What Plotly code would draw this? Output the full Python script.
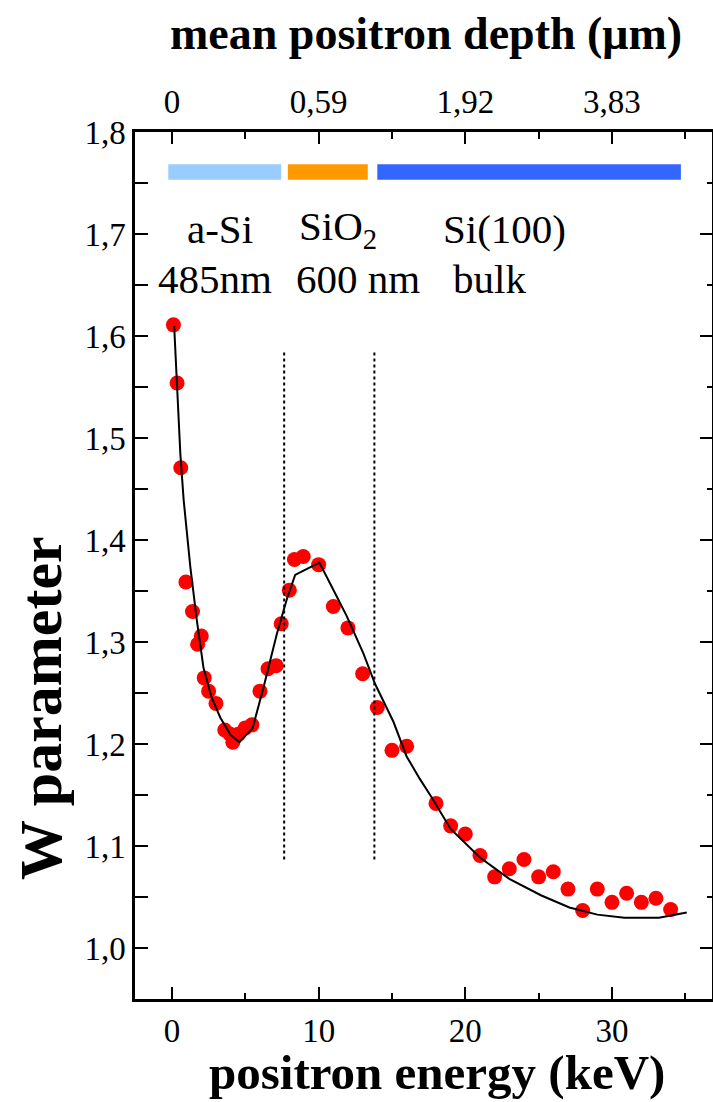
import plotly.graph_objects as go

# Measured W parameter vs. positron implantation energy
energy_kev = [0.1, 0.35, 0.6, 0.95, 1.4, 2.0, 1.75, 2.2, 2.5, 3.0, 3.6, 3.95, 4.15,
              4.55, 5.0, 5.45, 6.0, 6.55, 7.1, 7.45, 8.0, 8.35, 8.95, 10.0, 11.0,
              12.0, 13.0, 14.0, 15.0, 16.0, 18.0, 19.0, 20.0, 21.0, 22.0, 23.0,
              24.0, 25.0, 26.0, 27.0, 28.0, 29.0, 30.0, 31.0, 32.0, 33.0, 34.0]
w_param = [1.611, 1.554, 1.471, 1.359, 1.330, 1.306, 1.298, 1.265, 1.252, 1.240,
           1.214, 1.210, 1.202, 1.210, 1.216, 1.219, 1.252, 1.274, 1.277, 1.318,
           1.351, 1.381, 1.384, 1.376, 1.335, 1.314, 1.269, 1.236, 1.194, 1.198,
           1.142, 1.120, 1.112, 1.091, 1.070, 1.078, 1.087, 1.070, 1.075, 1.058,
           1.037, 1.058, 1.045, 1.054, 1.045, 1.049, 1.038]

# Layered-model fit curve
fit_energy = [0.15, 0.35, 0.57, 0.8, 1.25, 1.7, 2.15, 2.7, 3.3, 4.0, 4.6, 5.5, 6.25,
              7.15, 7.85, 8.4, 10.05, 10.8, 11.9, 13.05, 13.85, 15.1, 16.0, 16.9,
              17.7, 19.0, 21.0, 23.0, 25.15, 27.1, 29.0, 30.85, 33.2, 35.1]
fit_w = [1.610, 1.550, 1.485, 1.439, 1.374, 1.321, 1.275, 1.246, 1.226, 1.209,
         1.202, 1.216, 1.256, 1.308, 1.343, 1.366, 1.378, 1.357, 1.326, 1.289,
         1.259, 1.222, 1.188, 1.166, 1.148, 1.117, 1.089, 1.068, 1.052, 1.040,
         1.033, 1.030, 1.030, 1.035]

# Sample layers: energy extent on the bar, colour, two-line caption
layer_start = [-0.25, 7.9, 14.0]
layer_end = [7.45, 13.35, 34.7]
layer_colors = ["#99CCFF", "#FF9900", "#3366FF"]
layer_names = ["a-Si", "SiO<sub>2</sub>", "Si(100)"]
layer_sizes = ["485nm", "600 nm", "bulk"]
name_pos = [3.3, 11.3, 22.7]
size_pos = [2.9, 12.65, 21.65]

# Interface positions (keV) marked with dotted lines
interfaces = [7.65, 13.8]

# Mean positron depth (µm) shown on the top axis at 0, 10, 20, 30 keV
depth_tickvals = [0, 10, 20, 30]
depth_ticktext = ["0", "0,59", "1,92", "3,83"]

FONT = "Liberation Serif"
XR = [-2.52, 36.82]
YR = [0.9503, 1.8]

fig = go.Figure()

fig.add_trace(go.Scatter(
    x=energy_kev, y=w_param, mode="markers",
    marker=dict(color="#FF0000", size=15, line=dict(width=0)),
    showlegend=False, cliponaxis=False,
))
fig.add_trace(go.Scatter(
    x=fit_energy, y=fit_w, mode="lines",
    line=dict(color="black", width=2),
    showlegend=False,
))
# invisible traces so the top and right axes are drawn
fig.add_trace(go.Scatter(x=[None], y=[None], xaxis="x2", yaxis="y", showlegend=False))
fig.add_trace(go.Scatter(x=[None], y=[None], xaxis="x", yaxis="y2", showlegend=False))

shapes = []
for x0, x1, c in zip(layer_start, layer_end, layer_colors):
    shapes.append(dict(type="rect", xref="x", yref="y", x0=x0, x1=x1,
                       y0=1.7533, y1=1.7683, fillcolor=c, line=dict(width=0)))
for xi in interfaces:
    shapes.append(dict(type="line", xref="x", yref="y", x0=xi, x1=xi,
                       y0=1.087, y1=1.585,
                       line=dict(color="black", width=2, dash="dot")))

annotations = []
for name, sz, xn, xs in zip(layer_names, layer_sizes, name_pos, size_pos):
    annotations.append(dict(x=xn, y=1.705, xref="x", yref="y", text=name,
                            showarrow=False, font=dict(family=FONT, size=41, color="black")))
    annotations.append(dict(x=xs, y=1.656, xref="x", yref="y", text=sz,
                            showarrow=False, font=dict(family=FONT, size=41, color="black")))

annotations += [
    dict(x=0.523, y=-0.0851, xref="paper", yref="paper", showarrow=False,
         xanchor="center", yanchor="middle",
         text="<b>positron energy (keV)</b>",
         font=dict(family=FONT, size=49, color="black")),
    dict(x=0.505, y=1.1138, xref="paper", yref="paper", showarrow=False,
         xanchor="center", yanchor="middle",
         text="<b>mean positron depth (μm)</b>",
         font=dict(family=FONT, size=46, color="black")),
    dict(x=-0.164, y=0.336, xref="paper", yref="paper", showarrow=False,
         xanchor="center", yanchor="middle",
         text="<b>W parameter</b>", textangle=-90,
         font=dict(family=FONT, size=60, color="black")),
]

tickfont = dict(family=FONT, size=33, color="black")

fig.update_layout(
    width=713, height=1102,
    margin=dict(l=135, r=1, t=132, b=103),
    paper_bgcolor="white", plot_bgcolor="white",
    separators=", ",
    shapes=shapes, annotations=annotations,
    xaxis=dict(range=XR, showgrid=False, zeroline=False,
               showline=True, linecolor="black", linewidth=2.5,
               ticks="inside", ticklen=12, tickwidth=2, tickcolor="black",
               tick0=0, dtick=10, tickfont=tickfont, ticklabelstandoff=1,
               minor=dict(ticks="inside", ticklen=6, tickwidth=2, tickcolor="black",
                          dtick=5, tick0=0, showgrid=False)),
    xaxis2=dict(range=XR, overlaying="x", side="top", showgrid=False, zeroline=False,
                showline=True, linecolor="black", linewidth=2.5,
                ticks="inside", ticklen=12, tickwidth=2, tickcolor="black",
                tickmode="array", tickvals=depth_tickvals, ticktext=depth_ticktext,
                tickfont=tickfont, ticklabelstandoff=3,
                minor=dict(ticks="inside", ticklen=7, tickwidth=2, tickcolor="black",
                           dtick=5, tick0=0, showgrid=False)),
    yaxis=dict(range=YR, showgrid=False, zeroline=False,
               showline=True, linecolor="black", linewidth=2.5,
               ticks="inside", ticklen=13, tickwidth=2, tickcolor="black",
               tick0=1.0, dtick=0.1, tickformat=".1f", tickfont=tickfont,
               ticklabelstandoff=0,
               minor=dict(ticks="inside", ticklen=13, tickwidth=2, tickcolor="black",
                          dtick=0.05, tick0=1.0, showgrid=False)),
    yaxis2=dict(range=YR, overlaying="y", side="right", showgrid=False, zeroline=False,
                showline=True, linecolor="black", linewidth=2.5,
                ticks="inside", ticklen=12, tickwidth=2, tickcolor="black",
                tick0=1.0, dtick=0.1, showticklabels=False,
                minor=dict(ticks="inside", ticklen=5, tickwidth=2, tickcolor="black",
                           dtick=0.05, tick0=1.0, showgrid=False)),
)

fig.write_html("out.html")
